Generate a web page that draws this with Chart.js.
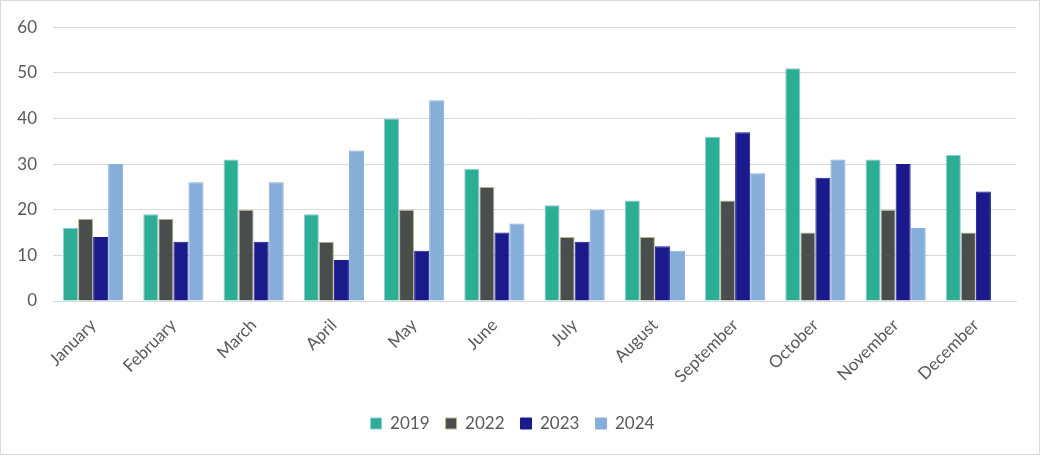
<!DOCTYPE html>
<html>
<head>
<meta charset="utf-8">
<script src="https://cdn.jsdelivr.net/npm/chart.js@4"></script>
<style>
  html, body { margin: 0; padding: 0; background: #fff; }
  #wrap { position: absolute; left: 0; top: 0; width: 1038px; height: 453px; border: 1px solid #d9d9d9; }
</style>
</head>
<body>
<div id="wrap"><canvas id="chart"></canvas></div>
<script>
const months = ['January', 'February', 'March', 'April', 'May', 'June', 'July', 'August', 'September', 'October', 'November', 'December'];
const y2019 = [16, 19, 31, 19, 40, 29, 21, 22, 36, 51, 31, 32];
const y2022 = [18, 18, 20, 13, 20, 25, 14, 14, 22, 15, 20, 15];
const y2023 = [14, 13, 13, 9, 11, 15, 13, 12, 37, 27, 30, 24];
const y2024 = [30, 26, 26, 33, 44, 17, 20, 11, 28, 31, 16, null];

const textColor = '#595959';
const font = { family: "Lato, 'Open Sans', sans-serif", size: 17 };

const series = [
    { label: '2019', data: y2019, backgroundColor: '#2bae94', borderColor: '#8ec8e0' },
    { label: '2022', data: y2022, backgroundColor: '#494e4c', borderColor: '#b8b890' },
    { label: '2023', data: y2023, backgroundColor: '#1a1a8c', borderColor: '#1a1a8c' },
    { label: '2024', data: y2024, backgroundColor: '#86aed9', borderColor: '#86aed9' }
];

new Chart(document.getElementById('chart'), {
    type: 'bar',
    data: {
        labels: months,
        datasets: series.map(s => ({ ...s, borderWidth: 1, barPercentage: 1, categoryPercentage: 0.75 }))
    },
    options: {
        responsive: true,
        maintainAspectRatio: false,
        animation: false,
        layout: { padding: { left: 8, right: 23, top: 8, bottom: 12 } },
        plugins: {
            legend: {
                position: 'bottom',
                labels: { color: textColor, font: font, boxWidth: 11, boxHeight: 11, padding: 16 }
            },
            tooltip: { enabled: false }
        },
        scales: {
            x: {
                grid: { display: false },
                border: { color: '#d9d9d9' },
                ticks: { color: textColor, font: font, maxRotation: 45, minRotation: 45, padding: 6 },
                afterFit: (scale) => { scale.height = 98; }
            },
            y: {
                min: 0,
                max: 60,
                grid: { color: '#d9d9d9', drawTicks: false },
                border: { display: false },
                ticks: { stepSize: 10, color: textColor, font: font, padding: 16 },
                afterFit: (scale) => { scale.width = 44; }
            }
        }
    }
});
</script>
</body>
</html>
